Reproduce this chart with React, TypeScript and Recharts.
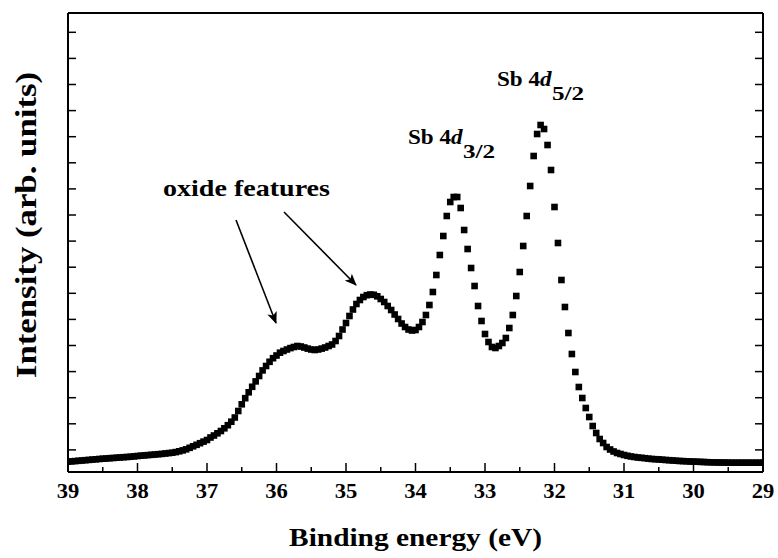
import React from "react";
import { Scatter, ScatterChart, XAxis, YAxis } from "recharts";

// binding energy grid (eV), one point every 0.05 eV from 39 down to 29
const ENERGY_START = 39;
const ENERGY_STEP = 0.05;

// intensity (arb. units), in the same order as the energy grid
const INTENSITY = [
  14.3, 14.6, 14.9, 15.2, 15.5, 15.8, 16.1, 16.4, 16.7, 17.0,
  17.3, 17.5, 17.8, 18.0, 18.3, 18.5, 18.8, 19.0, 19.3, 19.6,
  20.0, 20.3, 20.6, 20.9, 21.2, 21.5, 21.8, 22.1, 22.5, 22.9,
  23.3, 23.9, 24.7, 25.6, 26.7, 28.2, 29.7, 31.2, 32.8, 34.4,
  36.0, 38.5, 40.5, 42.7, 45.0, 47.7, 50.8, 54.3, 58.5, 65,
  71.7, 77.8, 83.7, 89.2, 94.6, 100.0, 105.6, 110, 114.2, 117.8,
  120.5, 123.3, 125, 126.5, 127.9, 129, 130, 129.5, 128.5, 127.4,
  126.5, 126, 126.5, 127.4, 128.5, 130, 131.5, 135, 140, 146.5,
  153, 160, 166.5, 172, 176, 179, 180.8, 181.5, 181.2, 179.7,
  177, 174, 170, 166, 161.5, 157, 152.5, 149, 146.5, 145.5,
  146, 149, 154, 161, 171, 184, 201, 221, 240, 260,
  274, 279, 279, 268, 246, 227, 208, 190, 170, 155,
  142, 134, 129, 128, 130, 133, 138, 148, 161, 180,
  204, 230, 260, 290, 320, 342, 351, 347, 331, 306,
  269, 233, 196, 169, 143, 122, 104, 89, 78, 68,
  59, 50, 43, 37, 33, 29, 26.5, 24.5, 23, 22,
  21, 20.2, 19.5, 19, 18.5, 18.2, 17.8, 17.4, 17, 16.8,
  16.6, 16.3, 16, 15.8, 15.5, 15.3, 15, 14.9, 14.7, 14.5,
  14.4, 14.3, 14.1, 14, 13.8, 13.7, 13.6, 13.5, 13.5, 13.4,
  13.4, 13.3, 13.3, 13.3, 13.3, 13.3, 13.3, 13.3, 13.3, 13.3,
  13.3,
];

const X_TICKS = [
  39, 38.5, 38, 37.5, 37, 36.5, 36, 35.5, 35, 34.5, 34, 33.5, 33, 32.5, 32,
  31.5, 31, 30.5, 30, 29.5, 29,
];
const Y_TICKS = [
  26.1, 52.2, 78.3, 104.4, 130.5, 156.6, 182.7, 208.8, 234.9, 261, 287.1,
  313.2, 339.3, 365.4, 391.5, 417.6, 443.7,
];

const data = INTENSITY.map((v, i) => ({
  e: +(ENERGY_START - i * ENERGY_STEP).toFixed(2),
  v,
}));

const W = 778;
const H = 558;
const FONT = "'Liberation Serif', 'Times New Roman', serif";
const SX = 1.13; // the original lettering runs a bit wider than Times
const frame = { stroke: "#000", strokeWidth: 2 };

const Square = (props: any) => {
  const { cx, cy } = props;
  if (cx == null || cy == null) return null;
  return <rect x={cx - 3.3} y={cy - 3.3} width={6.6} height={6.6} fill="#000" />;
};

const txt = {
  fontFamily: FONT,
  fontWeight: "bold" as const,
  fill: "#000",
};

const BottomTick = (props: any) => {
  const { x, y, payload } = props;
  const major = Number.isInteger(payload.value);
  return (
    <g>
      <line x1={x} x2={x} y1={y} y2={y - (major ? 9 : 5)} stroke="#000" strokeWidth={1.5} />
      {major && (
        <text
          {...txt}
          transform={`translate(${x},${y + 26}) scale(${SX},1)`}
          textAnchor="middle"
          fontSize={20}
        >
          {payload.value}
        </text>
      )}
    </g>
  );
};

const TopTick = (props: any) => {
  const { x, y, payload } = props;
  const major = Number.isInteger(payload.value);
  return <line x1={x} x2={x} y1={y} y2={y + (major ? 9 : 5)} stroke="#000" strokeWidth={1.5} />;
};

const LeftTick = (props: any) => {
  const { x, y } = props;
  return <line x1={x} x2={x + 8} y1={y} y2={y} stroke="#000" strokeWidth={1.5} />;
};

const RightTick = (props: any) => {
  const { x, y } = props;
  return <line x1={x} x2={x - 8} y1={y} y2={y} stroke="#000" strokeWidth={1.5} />;
};

export default function App() {
  // pinned to the page corner so the body margin cannot push it into a scrollbar
  return (
    <div style={{ position: "fixed", left: 0, top: 0, width: W, height: H, background: "#fff" }}>
      <ScatterChart width={W} height={H} margin={{ top: 0, right: 0, bottom: 0, left: 0 }}>
        <XAxis
          type="number"
          dataKey="e"
          domain={[29, 39]}
          reversed
          allowDataOverflow
          ticks={X_TICKS}
          interval={0}
          height={86}
          tickSize={0}
          tickMargin={0}
          tickLine={false}
          axisLine={frame}
          tick={BottomTick}
        />
        <XAxis
          xAxisId="top"
          orientation="top"
          type="number"
          domain={[29, 39]}
          reversed
          allowDataOverflow
          ticks={X_TICKS}
          interval={0}
          height={13}
          tickSize={0}
          tickMargin={0}
          tickLine={false}
          axisLine={frame}
          tick={TopTick}
        />
        <YAxis
          type="number"
          dataKey="v"
          domain={[4, 463]}
          allowDataOverflow
          ticks={Y_TICKS}
          interval={0}
          width={68}
          tickSize={0}
          tickMargin={0}
          tickLine={false}
          axisLine={frame}
          tick={LeftTick}
        />
        <YAxis
          yAxisId="right"
          orientation="right"
          type="number"
          domain={[4, 463]}
          allowDataOverflow
          ticks={Y_TICKS}
          interval={0}
          width={15}
          tickSize={0}
          tickMargin={0}
          tickLine={false}
          axisLine={frame}
          tick={RightTick}
        />
        <Scatter data={data} shape={Square} isAnimationActive={false} />
      </ScatterChart>
      <svg
        width={W}
        height={H}
        style={{ position: "absolute", left: 0, top: 0, pointerEvents: "none" }}
      >
        <defs>
          <marker
            id="head"
            viewBox="0 0 12 10"
            refX="11"
            refY="5"
            markerWidth="12"
            markerHeight="10"
            markerUnits="userSpaceOnUse"
            orient="auto"
          >
            <path d="M0,0 L12,5 L0,10 L3,5 Z" fill="#000" />
          </marker>
        </defs>
        <text {...txt} transform="translate(163,196) scale(1.22,1)" fontSize={23}>
          oxide features
        </text>
        <line x1={236} y1={220} x2={276} y2={323} stroke="#000" strokeWidth={1.6} markerEnd="url(#head)" />
        <line x1={284} y1={212} x2={356} y2={285} stroke="#000" strokeWidth={1.6} markerEnd="url(#head)" />
        <text {...txt} transform="translate(408,144) scale(1.05,1)" fontSize={22}>
          Sb 4<tspan fontStyle="italic">d</tspan>
        </text>
        <text {...txt} transform="translate(463,158) scale(1.4,1)" fontSize={18}>
          3/2
        </text>
        <text {...txt} transform="translate(497,86) scale(1.05,1)" fontSize={22}>
          Sb 4<tspan fontStyle="italic">d</tspan>
        </text>
        <text {...txt} transform="translate(552,100) scale(1.4,1)" fontSize={18}>
          5/2
        </text>
        <text
          {...txt}
          transform={`translate(415.5,546) scale(${SX},1)`}
          fontSize={26}
          textAnchor="middle"
        >
          Binding energy (eV)
        </text>
        <text
          {...txt}
          fontSize={30}
          textAnchor="middle"
          transform="translate(36,225) rotate(-90) scale(1.16,1)"
        >
          Intensity (arb. units)
        </text>
      </svg>
    </div>
  );
}
